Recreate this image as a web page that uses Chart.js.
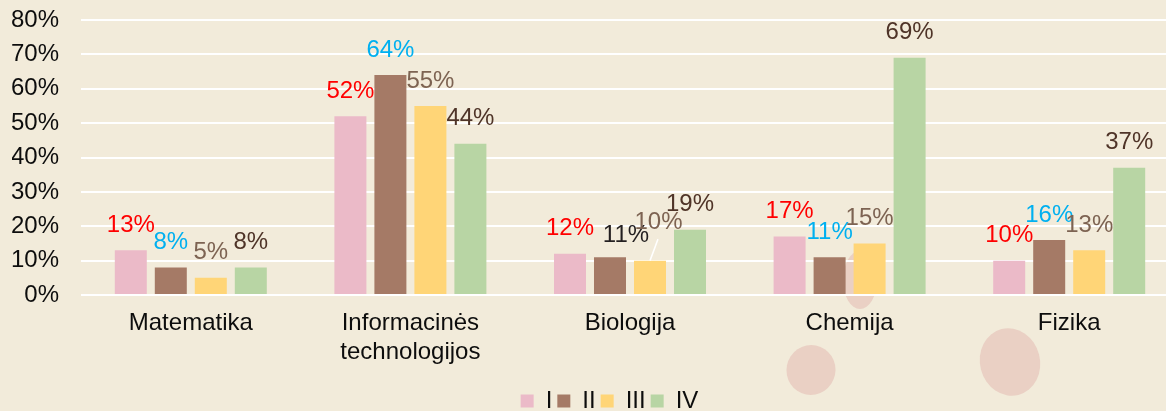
<!DOCTYPE html>
<html>
<head>
<meta charset="utf-8">
<script src="https://cdn.jsdelivr.net/npm/chart.js@4.4.1/dist/chart.umd.min.js"></script>
<style>
  html, body { margin: 0; padding: 0; overflow: hidden; width: 1166px; height: 411px; background: #F2EBDA; }
  canvas { display: block; }
</style>
</head>
<body>
<canvas id="chart" width="1180" height="423"></canvas>
<script>
// Subjects on the category axis
const categories = ['Matematika', ['Informacinės', 'technologijos'], 'Biologija', 'Chemija', 'Fizika'];

// Share of answers per group, in percent
const seriesNames = ['I', 'II', 'III', 'IV'];
const valuesI   = [13, 52, 12, 17, 10];
const valuesII  = [8, 64, 11, 11, 16];
const valuesIII = [5, 55, 10, 15, 13];
const valuesIV  = [8, 44, 19, 69, 37];

// Value axis ticks
const yMin = 0;
const yMax = 80;
const yStep = 10;

const FONT = "'Liberation Sans', Arial, Helvetica, sans-serif";
const FONT_SIZE = 24;
const TEXT = '#0d0d0d';

const barColors = ['#EBBAC8', '#A57A66', '#FFD577', '#B8D5A4'];
const labelColors = ['#FF0000', '#00B0F0', '#7D6352', '#4F3428'];

// Individual label placement tweaks: [datasetIndex-categoryIndex] -> {dx, dy, color, leader}
const labelTweaks = {
  '1-2': { dx: 16, dy: 3, color: '#231F20' },
  '2-2': { dx: 8.5, dy: -13, leader: true }
};

// Paper background with a few faint stains
const backdrop = {
  id: 'backdrop',
  beforeDraw(chart) {
    const ctx = chart.ctx;
    ctx.save();
    ctx.fillStyle = '#F2EBDA';
    ctx.fillRect(0, 0, chart.width, chart.height);
    ctx.fillStyle = '#EAD0C4';
    const stains = [
      [860, 280, 17, 29, 0],
      [811, 370, 24.5, 25, 0.2],
      [1010, 362, 30, 34, -0.25]
    ];
    stains.forEach(([x, y, rx, ry, rot]) => {
      ctx.beginPath();
      ctx.ellipse(x, y, rx, ry, rot, 0, Math.PI * 2);
      ctx.fill();
    });
    ctx.restore();
  },
  afterLayout(chart) {
    // legend sits a little right of the canvas centre
    chart.legend.left += 14;
    chart.legend.right += 14;
  }
};

// Percent labels above each bar
const valueLabels = {
  id: 'valueLabels',
  afterDatasetsDraw(chart) {
    const ctx = chart.ctx;
    ctx.save();
    ctx.font = FONT_SIZE + 'px ' + FONT;
    ctx.textAlign = 'center';
    ctx.textBaseline = 'middle';
    chart.data.datasets.forEach((ds, di) => {
      const meta = chart.getDatasetMeta(di);
      meta.data.forEach((bar, i) => {
        const t = labelTweaks[di + '-' + i] || {};
        const lx = bar.x + (t.dx || 0);
        const ly = bar.y - 25 + (t.dy || 0);
        if (t.leader) {
          ctx.strokeStyle = '#FFFFFF';
          ctx.lineWidth = 1.5;
          ctx.beginPath();
          ctx.moveTo(bar.x, bar.y);
          ctx.lineTo(lx - 0.5, ly + 16.5);
          ctx.stroke();
        }
        ctx.fillStyle = t.color || labelColors[di];
        ctx.fillText(ds.data[i] + '%', lx, ly);
      });
    });
    ctx.restore();
  }
};

const seriesValues = [valuesI, valuesII, valuesIII, valuesIV];

new Chart(document.getElementById('chart'), {
  type: 'bar',
  data: {
    labels: categories,
    datasets: seriesNames.map((name, k) => ({
      label: name,
      data: seriesValues[k],
      backgroundColor: barColors[k],
      borderWidth: 0,
      categoryPercentage: 0.7286,
      barPercentage: 0.8
    }))
  },
  options: {
    responsive: false,
    animation: false,
    devicePixelRatio: 1,
    layout: { padding: { left: 12, right: 1, top: 20, bottom: 0 } },
    plugins: {
      tooltip: { enabled: false },
      legend: {
        position: 'bottom',
        labels: {
          boxWidth: 13,
          boxHeight: 13,
          padding: 5,
          color: TEXT,
          font: { family: FONT, size: FONT_SIZE }
        }
      }
    },
    scales: {
      x: {
        grid: { display: false, drawTicks: false },
        border: { display: false },
        ticks: {
          color: TEXT,
          padding: 14,
          autoSkip: false,
          maxRotation: 0,
          font: { family: FONT, size: FONT_SIZE, lineHeight: 1.2 }
        },
        afterFit(scale) { scale.height = 89; }
      },
      y: {
        min: yMin,
        max: yMax,
        grid: { color: '#FFFFFF', lineWidth: 2, drawTicks: false },
        border: { display: false },
        ticks: {
          stepSize: yStep,
          color: TEXT,
          padding: 22,
          font: { family: FONT, size: FONT_SIZE },
          callback: v => v + '%'
        },
        afterFit(scale) {
          scale.width = 69;
          // tick labels may overhang the plot's top and bottom edges
          scale.paddingTop = 0;
          scale.paddingBottom = 0;
        }
      }
    }
  },
  plugins: [backdrop, valueLabels]
});
</script>
</body>
</html>
